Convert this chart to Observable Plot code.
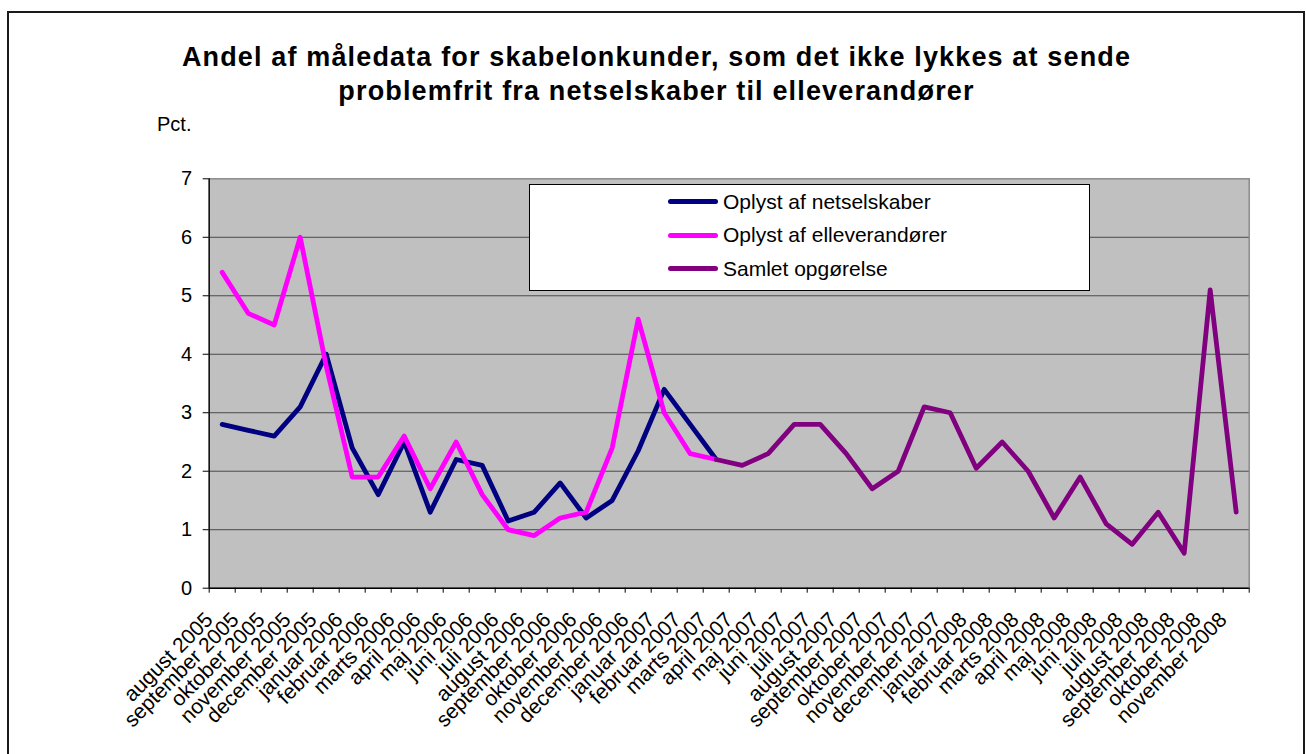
<!DOCTYPE html>
<html>
<head>
<meta charset="utf-8">
<script src="https://cdn.jsdelivr.net/npm/d3@7"></script>
<script src="https://cdn.jsdelivr.net/npm/@observablehq/plot@0.6"></script>
<style>
  html, body { margin: 0; padding: 0; background: #fff; }
  body { font-family: Arial, "Liberation Sans", sans-serif; color: #000; }
  #wrap { position: relative; width: 1306px; height: 754px; overflow: hidden; }
  #frame { position: absolute; left: 7px; top: 11px; width: 1298px; height: 800px; border: 2px solid #1a1a1a; box-sizing: border-box; pointer-events: none; z-index: 5; }
  #title { position: absolute; left: 8px; width: 1297px; top: 40px; text-align: center; font-weight: bold; font-size: 27px; letter-spacing: 1.15px; line-height: 34px; white-space: nowrap; }
  #unit { position: absolute; left: 157px; top: 114px; font-size: 20px; line-height: 20px; }
  #chart { position: absolute; left: 0; top: 150px; }
  #legend { position: absolute; left: 529px; top: 184px; width: 561px; height: 107px; border: 1px solid #000; background: #fff; box-sizing: border-box; z-index: 3; }
  .row { position: absolute; left: 138px; height: 30px; display: flex; align-items: center; font-size: 21px; white-space: nowrap; }
  .swatch { width: 50px; height: 5px; border-radius: 2.5px; margin-right: 5px; }
</style>
</head>
<body>
<div id="wrap">
  <div id="frame"></div>
  <div id="title"></div>
  <div id="unit"></div>
  <div id="chart"></div>
  <div id="legend"></div>
</div>
<script>
// ---- data ----
const titleLines = [
  "Andel af måledata for skabelonkunder, som det ikke lykkes at sende",
  "problemfrit fra netselskaber til elleverandører"
];
const unitLabel = "Pct.";
const months = [
  "august 2005", "september 2005", "oktober 2005", "november 2005", "december 2005",
  "januar 2006", "februar 2006", "marts 2006", "april 2006", "maj 2006", "juni 2006",
  "juli 2006", "august 2006", "september 2006", "oktober 2006", "november 2006", "december 2006",
  "januar 2007", "februar 2007", "marts 2007", "april 2007", "maj 2007", "juni 2007",
  "juli 2007", "august 2007", "september 2007", "oktober 2007", "november 2007", "december 2007",
  "januar 2008", "februar 2008", "marts 2008", "april 2008", "maj 2008", "juni 2008",
  "juli 2008", "august 2008", "september 2008", "oktober 2008", "november 2008"
];
const seriesNames = ["Oplyst af netselskaber", "Oplyst af elleverandører", "Samlet opgørelse"];
const seriesColors = ["#000080", "#FF00FF", "#800080"];
// Oplyst af netselskaber: august 2005 .. marts 2007
const netselskaber = [2.8, 2.7, 2.6, 3.1, 4.0, 2.4, 1.6, 2.5, 1.3, 2.2, 2.1, 1.15, 1.3, 1.8, 1.2, 1.5, 2.35, 3.4, 2.8, 2.2];
// Oplyst af elleverandører: august 2005 .. marts 2007
const elleverandorer = [5.4, 4.7, 4.5, 6.0, 3.8, 1.9, 1.9, 2.6, 1.7, 2.5, 1.6, 1.0, 0.9, 1.2, 1.3, 2.4, 4.6, 3.0, 2.3, 2.2];
// Samlet opgørelse: marts 2007 .. november 2008
const samletStart = 19;
const samlet = [2.2, 2.1, 2.3, 2.8, 2.8, 2.3, 1.7, 2.0, 3.1, 3.0, 2.05, 2.5, 2.0, 1.2, 1.9, 1.1, 0.75, 1.3, 0.6, 5.1, 1.3];
const yTicks = [0, 1, 2, 3, 4, 5, 6, 7];

// ---- tables ----
const toRows = (vals, start, name) => vals.map((v, k) => ({ idx: start + k, month: months[start + k], value: v, series: name }));
const rowsNet = toRows(netselskaber, 0, seriesNames[0]);
const rowsEl = toRows(elleverandorer, 0, seriesNames[1]);
const rowsSam = toRows(samlet, samletStart, seriesNames[2]);
const monthRows = months.map((m, i) => ({ idx: i, month: m }));
const boundaries = d3.range(0, months.length + 1);
const xc = d => d.idx + 0.5;

// ---- text ----
document.getElementById("title").innerHTML = titleLines.map(t => `<div>${t}</div>`).join("");
document.getElementById("unit").textContent = unitLabel;
document.getElementById("legend").innerHTML = seriesNames.map((n, i) =>
  `<div class="row" style="top:${1.7 + i * 33.6}px"><div class="swatch" style="background:${seriesColors[i]}"></div><span>${n}</span></div>`
).join("");

// ---- chart ----
const lineOpts = { x: xc, y: "value", stroke: "series", strokeWidth: 4.8, strokeLinejoin: "round", strokeLinecap: "round" };
const chart = Plot.plot({
  width: 1306,
  height: 604,
  marginLeft: 208.7,
  marginRight: 57.3,
  marginTop: 28.3,
  marginBottom: 166.3,
  style: { background: "none", overflow: "visible", fontFamily: "Arial, 'Liberation Sans', sans-serif", color: "#000" },
  x: { type: "linear", domain: [0, months.length], axis: null },
  y: { domain: [0, 7], axis: null },
  color: { domain: seriesNames, range: seriesColors },
  marks: [
    Plot.frame({ fill: "#C0C0C0", stroke: "#8a8a8a", strokeWidth: 1.5 }),
    Plot.gridY(yTicks.filter(t => t > 0 && t < 7), { stroke: "#4a4a4a", strokeOpacity: 1, strokeWidth: 1 }),
    Plot.ruleX([0], { stroke: "#000", strokeWidth: 1.3 }),
    Plot.ruleY([0], { stroke: "#000", strokeWidth: 1.5 }),
    Plot.axisY({ ticks: yTicks, tickSize: 6, tickPadding: 11, fontSize: 20, tickFormat: d => String(d), label: null }),
    Plot.axisX({ ticks: boundaries, tickSize: 5, tickFormat: () => "", label: null }),
    Plot.text(monthRows, { x: xc, frameAnchor: "bottom", text: "month", rotate: -45, textAnchor: "end", lineAnchor: "middle", dx: -13, dy: 28, fontSize: 21, fill: "#000" }),
    Plot.line(rowsNet, lineOpts),
    Plot.line(rowsEl, lineOpts),
    Plot.line(rowsSam, lineOpts)
  ]
});
document.getElementById("chart").appendChild(chart);
</script>
</body>
</html>
